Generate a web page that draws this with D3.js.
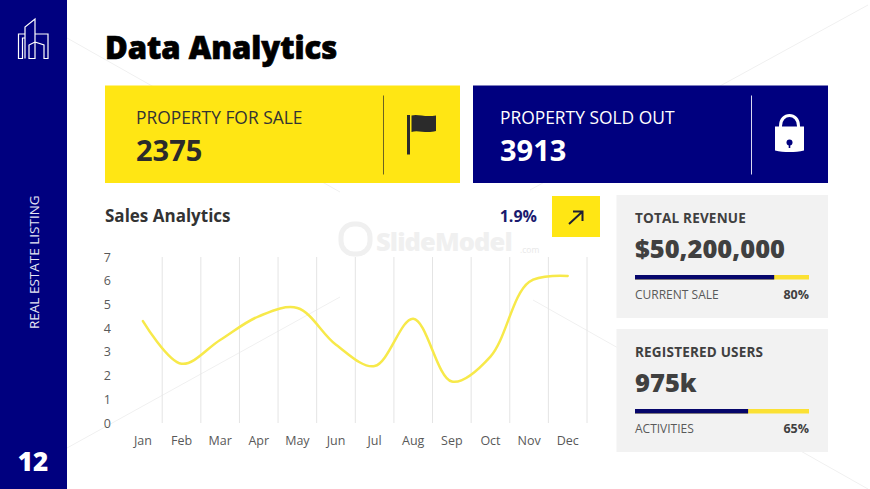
<!DOCTYPE html>
<html>
<head>
<meta charset="utf-8">
<script src="https://cdn.jsdelivr.net/npm/d3@7"></script>
<style>
html, body { margin: 0; padding: 0; background: #fff; }
svg { display: block; }
text { font-family: "Open Sans", "Noto Sans", sans-serif; }
</style>
</head>
<body>
<div id="chart-area"></div>
<script>
// DATA
var months = ["Jan", "Feb", "Mar", "Apr", "May", "Jun", "Jul", "Aug", "Sep", "Oct", "Nov", "Dec"];
var sales = [4.3, 2.5, 3.5, 4.5, 4.85, 3.3, 2.4, 4.4, 1.75, 2.8, 5.95, 6.2];
var yTicks = [0, 1, 2, 3, 4, 5, 6, 7];
var cardLabels = ["PROPERTY FOR SALE", "PROPERTY SOLD OUT"];
var cardValues = ["2375", "3913"];
var panelTitles = ["TOTAL REVENUE", "REGISTERED USERS"];
var panelValues = ["$50,200,000", "975k"];
var panelLabels = ["CURRENT SALE", "ACTIVITIES"];
var panelPercents = [80, 65];

var NAVY = "#00007f";
var YELLOW = "#ffe614";
var LINE_YELLOW = "#f7e94a";

var svg = d3.select("#chart-area")
    .append("svg")
    .attr("width", 870)
    .attr("height", 489);

svg.append("rect").attr("width", 870).attr("height", 489).attr("fill", "#fff");

// Faint background diagonals
var diagonals = [[67, 38, 340, 192], [868, 5, 530, 190], [67, 448, 340, 297], [533, 300, 868, 489]];
svg.selectAll("line.diag").data(diagonals).enter().append("line")
    .attr("class", "diag")
    .attr("x1", d => d[0]).attr("y1", d => d[1])
    .attr("x2", d => d[2]).attr("y2", d => d[3])
    .attr("stroke", "#f0f0f0")
    .attr("stroke-width", 1);

// SIDEBAR
svg.append("rect").attr("width", 67).attr("height", 489).attr("fill", NAVY);

// Building logo
svg.append("path")
    .attr("d", "M25 34H18.5V58.5H22.5V38H25M25 58.5V27L35 19V58.5H29V45L35 42M35 34H48V58.5H44V45L35 42")
    .attr("fill", "none")
    .attr("stroke", "#fff")
    .attr("stroke-width", 1.2);

svg.append("text")
    .attr("transform", "translate(39,329) rotate(-90)")
    .attr("font-size", 13.5)
    .attr("fill", "#e8e8f5")
    .text("REAL ESTATE LISTING");

svg.append("text")
    .attr("x", 33).attr("y", 471)
    .attr("text-anchor", "middle")
    .attr("font-size", 26)
    .attr("font-weight", 800)
    .attr("fill", "#fff")
    .text("12");

// TITLE
svg.append("text")
    .attr("x", 105).attr("y", 59)
    .attr("font-size", 31)
    .attr("font-weight", 800)
    .attr("stroke", "#000")
    .attr("stroke-width", 0.7)
    .attr("fill", "#000")
    .text("Data Analytics");

// TOP CARDS
var cardX = d3.scaleOrdinal().domain(cardLabels).range([105, 473]);
var cards = svg.selectAll("g.card").data(cardLabels).enter().append("g")
    .attr("class", "card")
    .attr("transform", d => "translate(" + cardX(d) + ",85.5)");

cards.append("rect")
    .attr("width", 355).attr("height", 97.5)
    .attr("fill", (d, i) => i == 0 ? YELLOW : NAVY);

cards.append("line")
    .attr("x1", 278.5)
    .attr("x2", 278.5)
    .attr("y1", 10).attr("y2", 89)
    .attr("stroke", (d, i) => i == 0 ? "#6b6320" : "#d8d8f0")
    .attr("stroke-width", 1);

cards.append("text")
    .attr("x", (d, i) => i == 0 ? 31 : 27)
    .attr("y", 38)
    .attr("font-size", 17.4)
    .attr("fill", (d, i) => i == 0 ? "#333" : "#fff")
    .text(d => d);

cards.append("text")
    .attr("x", (d, i) => i == 0 ? 31 : 27)
    .attr("y", 75)
    .attr("font-size", 29)
    .attr("font-weight", 700)
    .attr("fill", (d, i) => i == 0 ? "#2b2b2b" : "#fff")
    .text((d, i) => cardValues[i]);

// Flag icon
svg.append("path")
    .attr("d", "M407 115H410V154.5H407ZM411.5 115.5C418 113.5 424 117.5 436 115.5V131C426 134 418 129.5 411.5 132Z")
    .attr("fill", "#2b2b2b");

// Lock icon
svg.append("path")
    .attr("d", "M775 126.5H804V150.5C795 152.5 784 152.5 775 150.5Z")
    .attr("fill", "#fff");
svg.append("path")
    .attr("d", "M780.5 127V126C780.5 112 798.5 112 798.5 126V127")
    .attr("fill", "none")
    .attr("stroke", "#fff")
    .attr("stroke-width", 3);
svg.append("circle").attr("cx", 789.5).attr("cy", 142.5).attr("r", 3).attr("fill", NAVY);
svg.append("rect").attr("x", 788.7).attr("y", 143).attr("width", 1.6).attr("height", 5).attr("fill", NAVY);

// Watermark
svg.append("rect")
    .attr("x", 341).attr("y", 224)
    .attr("width", 29).attr("height", 30)
    .attr("rx", 13)
    .attr("fill", "none").attr("stroke", "#f0f0f0").attr("stroke-width", 5);
svg.append("text")
    .attr("x", 376).attr("y", 251)
    .attr("font-size", 25.5).attr("font-weight", 800)
    .attr("letter-spacing", -0.9)
    .attr("fill", "#f0f0f0")
    .text("SlideModel");
svg.append("text")
    .attr("x", 520).attr("y", 253)
    .attr("font-size", 8.5)
    .attr("fill", "#e8e8e8")
    .text(".com");

// SALES ANALYTICS HEADER
svg.append("text")
    .attr("x", 105).attr("y", 222)
    .attr("font-size", 17)
    .attr("font-weight", 700)
    .attr("fill", "#333")
    .text("Sales Analytics");

svg.append("text")
    .attr("x", 537).attr("y", 222)
    .attr("text-anchor", "end")
    .attr("font-size", 16)
    .attr("font-weight", 700)
    .attr("fill", "#1a1a6e")
    .text("1.9%");

svg.append("rect")
    .attr("x", 552).attr("y", 196)
    .attr("width", 48).attr("height", 41)
    .attr("fill", YELLOW);
svg.append("path")
    .attr("d", "M569 224L582 212M573 211.5H582.5V221")
    .attr("fill", "none")
    .attr("stroke", "#1f1f33")
    .attr("stroke-width", 2);

// LINE CHART
var x = d3.scaleBand().domain(months).range([123.6, 587]);
var y = d3.scaleLinear().domain([0, 7]).range([423, 257]);

svg.append("g").selectAll("line")
    .data(months)
    .enter().append("line")
    .attr("x1", d => x(d) + x.bandwidth())
    .attr("x2", d => x(d) + x.bandwidth())
    .attr("y1", y(7))
    .attr("y2", y(0))
    .attr("stroke", "#e4e4e4")
    .attr("stroke-width", 1);

var yAxisCall = d3.axisLeft(y).tickValues(yTicks).tickFormat(d3.format("d")).tickSize(0).tickPadding(0);
var yAxisGroup = svg.append("g")
    .attr("transform", "translate(111,0)")
    .call(yAxisCall);
yAxisGroup.select(".domain").remove();
yAxisGroup.selectAll("text")
    .attr("font-size", 12.5)
    .attr("fill", "#595959")
    .style("font-family", "\"Open Sans\", sans-serif");

var xAxisCall = d3.axisBottom(x).tickSize(0).tickPadding(0);
var xAxisGroup = svg.append("g")
    .attr("transform", "translate(0,436.5)")
    .call(xAxisCall);
xAxisGroup.select(".domain").remove();
xAxisGroup.selectAll("text")
    .attr("font-size", 12.5)
    .attr("fill", "#595959")
    .style("font-family", "\"Open Sans\", sans-serif");

var line = d3.line()
    .x((d, i) => x(months[i]) + x.bandwidth() / 2)
    .y(d => y(d))
    .curve(d3.curveCatmullRom.alpha(0.5));

svg.append("path")
    .datum(sales)
    .attr("d", line)
    .attr("fill", "none")
    .attr("stroke", LINE_YELLOW)
    .attr("stroke-width", 2.5)
    .attr("stroke-linecap", "round");

// RIGHT PANELS
var panelY = d3.scaleOrdinal().domain(panelTitles).range([195, 329]);
var barX = d3.scaleLinear().domain([0, 100]).range([0, 174]);

var panels = svg.selectAll("g.panel").data(panelTitles).enter().append("g")
    .attr("class", "panel")
    .attr("transform", d => "translate(616.5," + panelY(d) + ")");

panels.append("rect")
    .attr("width", 211.5).attr("height", 123)
    .attr("fill", "#f2f2f2");

panels.append("text")
    .attr("x", 18.5).attr("y", 27.5)
    .attr("font-size", 13.5)
    .attr("font-weight", 700)
    .attr("letter-spacing", 0.2)
    .attr("fill", "#404040")
    .text(d => d);

panels.append("text")
    .attr("x", 18.5).attr("y", 63)
    .attr("font-size", 25.5)
    .attr("font-weight", 800)
    .attr("fill", "#404040")
    .text((d, i) => panelValues[i]);

panels.append("rect")
    .attr("x", 18.5).attr("y", 80)
    .attr("width", barX(100)).attr("height", 4.5)
    .attr("fill", "#fbe134");

panels.append("rect")
    .attr("x", 18.5).attr("y", 80)
    .attr("width", (d, i) => barX(panelPercents[i])).attr("height", 4.5)
    .attr("fill", "#06066b");

panels.append("text")
    .attr("x", 18.5).attr("y", 104)
    .attr("font-size", 12)
    .attr("fill", "#595959")
    .text((d, i) => panelLabels[i]);

panels.append("text")
    .attr("x", 192.5).attr("y", 104)
    .attr("text-anchor", "end")
    .attr("font-size", 12.5)
    .attr("font-weight", 700)
    .attr("fill", "#404040")
    .text((d, i) => panelPercents[i] + "%");
</script>
</body>
</html>
